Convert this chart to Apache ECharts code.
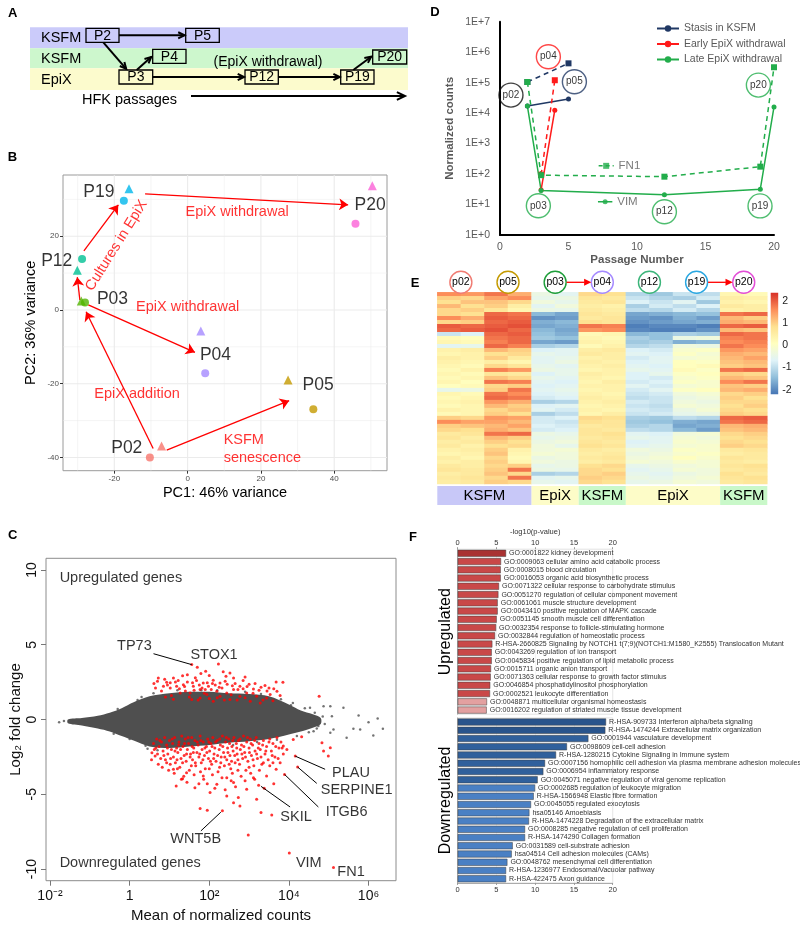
<!DOCTYPE html>
<html><head><meta charset="utf-8">
<script src="https://cdn.jsdelivr.net/npm/echarts@6.0.0/dist/echarts.min.js"></script>
<style>html,body{margin:0;padding:0;background:#fff;}#chart{width:800px;height:927px;}</style>
</head><body><div id="chart"></div>
<script>
// ======================= DATA =======================
// ---- Panel B : PCA ----
const pcaPassages = ['P02','P03','P04','P05','P12','P19','P20'];
const pcaCircleX = [-10.3,-28.0,4.8,34.3,-28.8,-17.4,45.8];
const pcaCircleY = [-40.0,2.0,-17.2,-26.9,13.8,29.6,23.4];
const pcaTriangleX = [-7.1,-29.0,3.6,27.4,-30.1,-16.0,50.4];
const pcaTriangleY = [-36.9,2.4,-5.7,-19.0,10.8,32.9,33.7];
const pcaLabelX = [-16.6,-20.5,7.6,35.6,-35.7,-24.2,49.8];
const pcaLabelY = [-37.6,2.9,-12.4,-20.4,13.3,32.0,28.3];
const pcaArrows = [[-9.4,-37.6,-27.7,-0.5],[-5.7,-38.0,27.7,-24.6],[-27.1,1.4,2.0,-11.5],[-29.4,2.7,-30.1,8.9],[-28.3,16.0,-18.9,28.5],[-11.6,31.5,43.8,28.5]];
const pcaNotes = ['EpiX withdrawal','Cultures in EpiX','EpiX withdrawal','EpiX addition','KSFM\nsenescence'];
const pcaNoteX = [13.5,-19.4,0.0,-13.8,9.7];
const pcaNoteY = [26.5,17.5,0.9,-22.9,-37.8];
const pcaXTicks = [-20,0,20,40];
const pcaYTicks = [-40,-20,0,20];
const pcaMinorX = [-30,-10,10,30,50];
const pcaMinorY = [-30,-10,10,30];

// ---- Panel D : normalized counts ----
const stasisVIM = [[2,1.7e4],[5,2.9e4]];
const stasisFN1 = [[2,1.05e5],[5,4.3e5]];
const earlyVIM = [[3,30],[4,1.25e4]];
const earlyFN1 = [[3,95],[4,1.2e5]];
const lateVIM = [[2,1.7e4],[3,29],[12,21],[19,32],[20,1.6e4]];
const lateFN1 = [[2,1.05e5],[3,92],[12,82],[19,175],[20,3.2e5]];
const dLegendNames = ['Stasis in KSFM','Early EpiX withdrawal','Late EpiX withdrawal'];
const dSampleNames = ['p02','p04','p05','p03','p12','p19','p20'];
const dSampleX = [0.8,3.53,5.43,2.8,12.0,18.98,18.86];
const dSampleY = [3.9e4,7.1e5,1.07e5,9.1,5.8,9.0,8.3e4];
const dKeyFN1 = [[7.2,186],[8.3,186]];
const dKeyVIM = [[7.15,12.3],[8.2,12.3]];

// ---- Panel E : heatmap (z-scores) ----
const heatCols = ['p02a','p02b','p05a','p05b','p03a','p03b','p04a','p04b','p12a','p12b','p19a','p19b','p20a','p20b'];
const heatSamples = ['p02','p05','p03','p04','p12','p19','p20'];
const heatGroups = [['KSFM',0,3],['EpiX',4,5],['KSFM',6,7],['EpiX',8,11],['KSFM',12,13]];
const heatRows = [
[1.6,1.5,1.8,1.3,-0.4,-0.6,0.9,0.8,-1.1,-1.3,-0.9,-1.0,0.3,0.2],
[1.0,0.9,1.4,1.6,-0.5,-0.4,0.7,0.6,-0.9,-1.1,-1.2,-0.8,0.5,0.4],
[0.8,1.1,1.1,0.9,-0.3,-0.5,0.6,0.7,-0.7,-0.9,-0.6,-1.3,0.4,0.3],
[1.2,0.8,1.0,0.5,-0.6,-0.3,0.5,0.4,-1.2,-0.8,-1.0,-0.7,0.6,0.5],
[0.9,1.0,0.7,0.3,-0.4,-0.5,0.6,0.5,-1.0,-1.1,-0.8,-1.1,0.4,0.5],
[0.9,0.8,1.9,1.8,-1.5,-1.7,0.7,0.6,-1.7,-1.6,-1.5,-1.4,1.8,1.9],
[1.6,1.3,2.0,1.9,-1.9,-1.8,0.6,0.7,-1.8,-1.9,-1.6,-1.8,1.2,1.0],
[0.9,1.0,1.9,2.0,-1.6,-1.5,0.8,0.7,-1.9,-1.8,-1.7,-1.6,1.3,1.2],
[2.0,1.9,2.0,2.1,-1.7,-1.6,1.8,1.7,-2.1,-2.0,-2.0,-2.1,1.9,2.0],
[1.9,2.0,2.1,1.9,-1.5,-1.7,1.5,1.6,-2.0,-2.1,-2.1,-1.9,1.2,1.1],
[-0.9,-0.7,1.9,2.0,-1.4,-1.6,0.2,0.3,-1.5,-1.4,-1.2,-1.3,1.9,1.8],
[0.2,0.1,1.8,1.9,-1.3,-1.4,0.3,0.2,-1.2,-1.4,-0.4,-0.3,1.7,1.8],
[0.3,0.2,1.7,1.9,-1.7,-1.8,0.4,0.3,-1.3,-1.2,-1.6,-1.5,1.6,1.7],
[-0.6,-0.5,1.9,1.7,-1.2,-1.1,0.2,0.4,-1.1,-1.0,-0.3,-0.4,1.8,1.6],
[0.4,0.5,1.2,1.0,-0.7,-0.6,0.5,0.6,-0.7,-0.8,-0.1,0.0,1.5,1.4],
[0.3,0.4,0.8,0.9,-0.5,-0.6,0.6,0.5,-0.6,-0.7,0.0,-0.2,1.3,1.2],
[0.5,0.4,1.0,0.6,-0.6,-0.5,0.4,0.5,-0.8,-0.6,-0.2,-0.1,1.2,1.4],
[0.4,0.3,0.5,0.3,-0.6,-0.4,0.5,0.4,-0.7,-0.6,0.1,0.0,1.1,1.2],
[0.3,0.2,0.9,0.7,-0.5,-0.6,0.4,0.5,-0.6,-0.7,0.1,0.2,1.0,1.1],
[0.2,0.4,1.7,1.5,-0.4,-0.5,0.3,0.4,-0.5,-0.6,0.2,0.0,1.8,1.9],
[0.3,0.2,0.7,0.6,-0.7,-0.5,0.5,0.4,-0.7,-0.5,0.0,0.1,1.0,0.9],
[0.2,0.3,1.1,0.9,-0.5,-0.6,0.4,0.3,-0.7,-0.8,-0.1,0.0,1.2,1.1],
[0.3,0.1,1.8,1.7,-0.6,-0.7,0.3,0.5,-0.8,-0.7,0.0,-0.1,1.6,1.8],
[0.1,0.2,0.9,1.0,-0.7,-0.6,0.4,0.4,-0.6,-0.8,-0.2,-0.1,1.1,1.0],
[-0.5,-0.4,1.0,1.8,-0.6,-0.5,0.3,0.4,-0.8,-0.6,0.0,0.1,1.2,1.3],
[0.3,0.2,1.8,1.6,-0.7,-0.6,0.4,0.3,-0.9,-0.8,-0.3,-0.2,0.9,1.0],
[0.2,0.3,1.9,1.8,-0.8,-0.7,0.5,0.4,-1.0,-0.9,-0.4,-0.3,1.0,0.8],
[0.3,0.4,1.5,1.3,-1.2,-1.1,0.4,0.5,-0.8,-0.9,-0.3,-0.4,0.9,0.9],
[0.2,0.3,1.2,1.0,-0.7,-0.6,0.3,0.4,-0.9,-1.0,-0.2,-0.3,0.8,1.0],
[0.4,0.3,0.9,1.1,-0.6,-0.8,0.4,0.3,-0.8,-0.9,-0.4,-0.2,0.9,0.8],
[0.2,0.3,1.0,0.8,-1.2,-1.0,0.3,0.5,-0.9,-0.8,-0.5,-0.4,1.0,0.9],
[1.0,0.9,1.5,1.4,-0.8,-0.7,0.9,0.8,-1.2,-1.3,-1.0,-1.1,1.9,2.0],
[1.6,1.4,1.4,1.2,-0.8,-0.9,0.8,0.7,-1.3,-1.4,-1.6,-1.7,1.8,1.9],
[1.0,1.1,1.2,1.4,-0.7,-0.8,0.6,0.7,-1.2,-1.1,-1.7,-1.6,1.2,1.3],
[0.9,0.8,1.3,1.1,-0.8,-0.7,0.7,0.6,-1.0,-1.1,-1.5,-1.8,1.1,1.2],
[0.6,0.7,1.8,1.9,-0.4,-0.5,0.7,0.8,-0.6,-0.7,-0.3,-0.2,0.9,1.0],
[0.7,0.5,1.2,1.0,-0.5,-0.4,0.6,0.7,-0.5,-0.6,-0.2,-0.3,0.8,0.9],
[0.5,0.6,1.0,0.8,-0.4,-0.3,0.7,0.6,-0.7,-0.6,-0.1,-0.2,0.9,0.8],
[0.6,0.4,0.8,0.9,-0.3,-0.5,0.8,0.7,-0.6,-0.5,-0.2,-0.1,1.0,0.9],
[0.4,0.5,1.0,0.4,-0.3,-0.2,0.6,0.5,-0.3,-0.4,0.0,-0.1,0.6,0.7],
[0.3,0.4,1.1,0.3,-0.2,-0.3,0.5,0.6,-0.4,-0.3,-0.1,0.0,0.5,0.6],
[0.5,0.3,0.9,0.2,-0.4,-0.3,0.6,0.7,-0.3,-0.2,0.1,-0.1,0.7,0.6],
[0.4,0.5,1.0,0.3,-0.3,-0.4,0.5,0.6,-0.2,-0.3,-0.1,-0.2,0.6,0.5],
[0.6,0.5,0.9,1.0,-0.5,-0.4,0.8,0.9,-0.5,-0.4,-0.3,-0.2,0.7,0.8],
[0.7,0.6,1.0,1.8,-0.4,-0.5,0.9,0.8,-0.6,-0.5,-0.2,-0.3,0.6,0.7],
[0.5,0.6,1.1,0.9,-1.2,-1.1,0.9,1.0,-0.5,-0.6,-0.4,-0.3,0.8,0.6],
[0.6,0.7,0.9,1.8,-0.6,-0.5,1.0,0.9,-0.4,-0.5,-0.3,-0.2,0.7,0.8],
[0.5,0.6,1.0,0.9,-0.5,-0.6,0.9,0.8,-0.5,-0.4,-0.2,-0.3,0.6,0.7]
];
const heatScaleTicks = [-2,-1,0,1,2];

// ---- Panel C : MA plot (x = log10 mean of normalized counts, y = log2 fold change) ----
const maEnvX = [-1.55,-1.2,-0.8,-0.5,-0.2,0.1,0.5,1.0,1.5,2.0,2.5,3.0,3.5,4.0,4.3,4.6,4.8];
const maEnvUpper = [0.0,0.1,0.25,0.45,0.75,1.15,1.55,1.75,1.85,1.85,1.75,1.7,1.55,1.0,0.6,0.35,0.1];
const maEnvLower = [-0.25,-0.4,-0.6,-0.8,-1.1,-1.4,-1.8,-1.9,-1.8,-1.7,-1.55,-1.45,-1.3,-1.0,-0.8,-0.55,-0.3];
const maGrayPoints = [[-1.77,-0.18],[-1.65,-0.1],[0.3,1.5],[0.4,-1.75],[0.2,1.3],[0.0,-1.3],[-0.3,0.7],[-0.4,-0.95],[0.6,1.75],[0.7,-2.05],[1.2,1.95],[1.8,1.95],[2.2,1.95],[2.9,1.85],[3.3,1.7],[3.8,1.35],[4.1,1.1],[4.2,-1.1],[4.4,0.75],[4.5,-0.85],[3.7,-1.35],[3.2,-1.5],[2.6,-1.7],[4.05,0.95],[4.65,0.45],[4.7,-0.6],[4.85,0.2],[4.9,-0.3],[0.45,-1.95],
[4.53,0.78],[4.87,0.89],[5.04,0.89],[5.37,0.78],[5.75,0.27],[6.0,-0.18],[6.23,0.07],[6.36,-0.62],[5.62,-0.62],[5.79,-0.67],[5.12,-0.67],[5.45,-1.22],[6.12,-1.07],[5.08,0.22],[4.74,-0.44],[4.62,-0.78],[5.04,-0.89]];
const maRedUp = [[1.56,3.67],[1.70,3.49],[2.23,3.71],[1.79,3.07],[1.91,3.22],[1.33,2.93],[1.10,2.78],[0.72,2.78],[0.61,2.40],[0.93,2.49],[2.52,3.11],[2.61,2.78],[3.68,2.51],[3.85,2.49],[4.76,1.56],[3.40,2.27],[3.11,2.04],[2.77,2.22],[2.10,2.62],[2.27,2.44],[1.85,2.44],[1.98,2.22],[1.60,2.22],[1.35,2.33],[1.18,2.22],[1.02,2.11],[0.85,2.22],[1.77,2.0],[2.19,1.89],[2.44,1.78],[2.61,2.0],[2.94,1.78],[3.19,1.56],[3.44,1.44],[2.77,1.56],[1.52,1.78],[1.27,1.78],[1.94,1.67],[2.27,1.56],[2.52,1.33],[3.03,1.22],[3.28,1.11],[3.53,1.67],[3.70,1.89],[1.77,1.44],[2.10,1.22],[1.56,1.33],
[0.65,2.1],[0.8,1.9],[0.95,2.3],[1.05,1.6],[1.15,2.5],[1.25,2.05],[1.4,1.9],[1.45,2.5],[1.5,1.5],[1.62,1.95],[1.68,2.6],[1.72,1.3],[1.82,2.1],[1.88,1.75],[1.95,2.45],[2.0,1.4],[2.05,2.0],[2.15,2.3],[2.2,1.45],[2.32,2.1],[2.38,1.3],[2.45,2.35],[2.55,1.65],[2.65,2.4],[2.7,1.3],[2.85,2.05],[2.9,1.45],[3.0,2.35],[3.1,1.75],[3.25,1.95],[3.35,1.3],[3.5,2.1],[3.6,1.25],[1.1,1.35],[0.9,1.5],[2.42,2.9],[2.0,2.95],[1.65,2.8],[2.85,2.6],
[0.70,2.55],[0.88,2.7],[1.02,2.45],[1.22,2.6],[1.38,2.2],[1.58,2.45],[1.75,2.3],[1.90,2.0],[2.08,2.4],[2.25,2.15],[2.40,2.55],[2.58,2.25],[2.72,2.0],[2.95,2.2],[3.15,2.4],[3.30,2.15],[3.45,1.9],[3.62,2.05],[3.78,1.6],[2.35,3.2],[1.45,3.0],[2.9,2.85]];
const maRedDown = [[1.17,-4.44],[1.33,-3.96],[1.64,-4.56],[1.77,-5.96],[1.95,-6.07],[2.33,-6.11],[2.73,-5.22],[2.77,-5.78],[2.94,-4.67],[2.98,-7.73],[3.19,-5.33],[3.30,-6.22],[3.57,-6.38],[3.24,-4.40],[3.68,-3.33],[3.89,-3.67],[4.16,-2.44],[4.22,-3.18],[4.01,-8.93],[5.12,-9.89],[4.83,-1.56],[5.04,-1.89],[4.99,-2.44],[4.87,-2.11],[4.32,-1.16],[4.11,-1.33],[3.95,-2.0],[3.86,-1.78],[3.78,-2.89],[3.60,-2.89],[3.44,-3.78],[2.61,-4.22],[2.44,-3.89],[2.19,-4.33],[2.02,-4.89],[1.85,-3.78],[1.43,-3.56],[1.10,-3.33],[0.93,-2.89],[0.64,-2.44],[0.56,-2.22],[2.44,-5.11],[2.61,-5.56],[3.11,-3.89],[3.36,-2.89],
[0.60,-1.6],[0.62,-2.0],[0.68,-1.3],[0.70,-2.3],[0.74,-1.8],[0.78,-2.6],[0.80,-1.5],[0.84,-2.1],[0.88,-1.2],[0.90,-2.7],[0.93,-1.7],[0.96,-2.3],[1.00,-1.4],[1.02,-3.0],[1.05,-2.0],[1.08,-1.6],[1.10,-2.5],[1.13,-1.2],[1.15,-2.9],[1.18,-1.9],[1.21,-2.2],[1.24,-1.5],[1.26,-3.2],[1.29,-2.6],[1.31,-1.1],[1.34,-1.8],[1.37,-2.4],[1.40,-1.3],[1.42,-2.8],[1.45,-2.0],[1.48,-1.6],[1.50,-3.4],[1.53,-2.3],[1.56,-1.2],[1.58,-2.7],[1.61,-1.9],[1.64,-1.4],[1.66,-3.1],[1.69,-2.2],[1.72,-1.7],[1.74,-2.5],[1.77,-1.1],[1.80,-2.9],[1.82,-2.0],[1.85,-1.5],[1.88,-2.4],[1.90,-3.3],[1.93,-1.8],[1.96,-1.3],[1.98,-2.6],[2.01,-2.1],[2.04,-1.6],[2.06,-3.0],[2.09,-1.2],[2.12,-2.3],[2.14,-1.9],[2.17,-2.8],[2.20,-1.4],[2.22,-3.5],[2.25,-2.0],[2.28,-1.7],[2.30,-2.5],[2.33,-1.1],[2.36,-2.2],[2.38,-3.1],[2.41,-1.5],[2.44,-2.7],[2.46,-1.9],[2.49,-1.3],[2.52,-2.4],[2.54,-3.3],[2.57,-1.8],[2.60,-2.1],[2.62,-1.2],[2.65,-2.9],[2.68,-1.6],[2.70,-2.3],[2.73,-1.4],[2.76,-3.0],[2.78,-2.0],[2.81,-1.7],[2.84,-2.6],[2.86,-1.1],[2.89,-2.2],[2.92,-3.4],[2.94,-1.5],[2.97,-2.8],[3.00,-1.9],[3.03,-1.3],[3.06,-2.4],[3.09,-1.7],[3.12,-3.1],[3.15,-2.1],[3.18,-1.2],[3.21,-2.6],[3.25,-1.6],[3.28,-2.0],[3.32,-3.0],[3.36,-1.4],[3.40,-2.3],[3.44,-1.8],[3.48,-2.7],[3.52,-1.3],[3.56,-2.1],[3.60,-1.6],[3.65,-2.5],[3.70,-1.2],[3.75,-1.9],[3.80,-1.5],[3.86,-2.3],[1.12,-3.6],[1.36,-3.8],[1.62,-3.7],[1.86,-4.0],[2.08,-3.7],[2.32,-3.9],[2.58,-3.6],[2.80,-3.8],[3.04,-3.6],[0.55,-2.7],[0.72,-3.0],[0.98,-3.4],[1.44,-4.2],[1.74,-4.3],[2.14,-4.6],[2.66,-4.5],[2.90,-4.1],[3.14,-4.0],
[0.66,-1.9],[0.76,-1.4],[0.86,-2.4],[0.95,-1.9],[1.03,-2.6],[1.07,-1.3],[1.14,-2.1],[1.19,-2.7],[1.23,-1.7],[1.28,-2.0],[1.33,-2.9],[1.38,-1.6],[1.43,-2.3],[1.47,-1.2],[1.52,-2.5],[1.57,-1.8],[1.60,-2.2],[1.65,-2.9],[1.70,-1.5],[1.76,-2.3],[1.79,-1.4],[1.84,-2.7],[1.89,-1.9],[1.94,-2.2],[1.99,-1.5],[2.03,-2.8],[2.07,-1.8],[2.11,-2.6],[2.16,-1.5],[2.21,-2.4],[2.26,-1.3],[2.29,-2.9],[2.34,-1.8],[2.39,-2.5],[2.43,-1.2],[2.47,-2.2],[2.51,-1.6],[2.56,-2.8],[2.59,-1.4],[2.64,-2.4],[2.69,-1.9],[2.72,-2.7],[2.77,-1.3],[2.82,-2.3],[2.87,-1.8],[2.91,-2.5],[2.96,-1.2],[3.01,-2.2],[3.05,-1.6],[3.10,-2.7],[3.14,-1.4],[3.19,-2.3],[3.23,-1.9],[3.30,-2.5],[3.34,-1.7],[3.42,-2.1],[3.50,-1.5],[3.58,-2.4],[3.67,-1.8],[3.73,-2.6],[3.83,-1.9],[1.20,-3.3],[1.55,-3.1],[1.78,-3.5],[2.00,-3.3],[2.26,-3.2],[2.50,-3.0],[2.72,-3.4],[3.00,-3.2],[3.26,-3.4],[3.52,-3.1],[0.82,-3.2],[1.30,-4.0],[1.95,-4.3],[2.40,-4.7],[2.55,-4.1],[3.38,-4.6],[3.62,-4.3]];
const maGenes = ['TP73','STOX1','PLAU','SERPINE1','ITGB6','SKIL','WNT5B','VIM','FN1'];
const maGeneX = [0.12,2.12,5.56,5.70,5.45,4.18,1.66,4.50,5.56];
const maGeneY = [4.93,4.33,-3.6,-4.73,-6.2,-6.53,-8.0,-9.6,-10.18];
const maLeaders = [[0.60,4.4,1.56,3.67],[4.16,-2.45,4.91,-3.33],[4.22,-3.18,4.70,-4.27],[3.89,-3.67,4.74,-5.85],[3.30,-4.47,4.03,-5.85],[1.79,-7.45,2.29,-6.2]];
const maRegionText = ['Upregulated genes','Downregulated genes'];
const maRegionX = [-1.77,-1.77];
const maRegionY = [9.47,-9.6];
const maXTicks = [-2,0,2,4,6];
const maXTickText = ['10\u207B\u00B2','1','10\u00B2','10\u2074','10\u2076'];
const maYTicks = [-10,-5,0,5,10];

// ---- Panel F : enrichment ----
const upTerms = ['GO:0001822 kidney development','GO:0009063 cellular amino acid catabolic process','GO:0008015 blood circulation','GO:0016053 organic acid biosynthetic process','GO:0071322 cellular response to carbohydrate stimulus','GO:0051270 regulation of cellular component movement','GO:0061061 muscle structure development','GO:0043410 positive regulation of MAPK cascade','GO:0051145 smooth muscle cell differentiation','GO:0032354 response to follicle-stimulating hormone','GO:0032844 regulation of homeostatic process','R-HSA-2660825 Signaling by NOTCH1 t(7;9)(NOTCH1:M1580_K2555) Translocation Mutant','GO:0043269 regulation of ion transport','GO:0045834 positive regulation of lipid metabolic process','GO:0015711 organic anion transport','GO:0071363 cellular response to growth factor stimulus','GO:0046854 phosphatidylinositol phosphorylation','GO:0002521 leukocyte differentiation','GO:0048871 multicellular organismal homeostasis','GO:0016202 regulation of striated muscle tissue development'];
const upValues = [6.24,5.59,5.55,5.55,5.33,5.25,5.16,5.16,5.03,4.95,4.82,4.47,4.39,4.39,4.30,4.26,4.20,4.17,3.78,3.74];
const downTerms = ['R-HSA-909733 Interferon alpha/beta signaling','R-HSA-1474244 Extracellular matrix organization','GO:0001944 vasculature development','GO:0098609 cell-cell adhesion','R-HSA-1280215 Cytokine Signaling in Immune system','GO:0007156 homophilic cell adhesion via plasma membrane adhesion molecules','GO:0006954 inflammatory response','GO:0045071 negative regulation of viral genome replication','GO:0002685 regulation of leukocyte migration','R-HSA-1566948 Elastic fibre formation','GO:0045055 regulated exocytosis','hsa05146 Amoebiasis','R-HSA-1474228 Degradation of the extracellular matrix','GO:0008285 negative regulation of cell proliferation','R-HSA-1474290 Collagen formation','GO:0031589 cell-substrate adhesion','hsa04514 Cell adhesion molecules (CAMs)','GO:0048762 mesenchymal cell differentiation','R-HSA-1236977 Endosomal/Vacuolar pathway','R-HSA-422475 Axon guidance'];
const downValues = [19.14,19.05,16.86,14.10,12.69,11.27,11.05,10.32,9.98,9.81,9.46,9.25,9.20,8.69,8.69,7.10,6.97,6.41,6.24,6.24];

// ======================= STYLES =======================
const FONT = '"Liberation Sans", Arial, Helvetica, sans-serif';
const passageColors = {P02:'#F8766D',P03:'#53B400',P04:'#A58AFF',P05:'#C49A00',P12:'#00C094',P19:'#00B6EB',P20:'#FB61D7'};
const heatCircleColors = {p02:'#f07b72',p05:'#c49a00',p03:'#1e9e3a',p04:'#a58aff',p12:'#3cb57a',p19:'#2aa7e1',p20:'#e34fd7'};
const dColors = {navy:'#203864', red:'#ff1a1a', green:'#22ad4b'};
const dSampleColors = ['#111111',dColors.red,dColors.navy,dColors.green,dColors.green,dColors.green,dColors.green];
const heatPalette = ['#4575B4','#91BFDB','#E0F3F8','#FFFFBF','#FEE090','#FC8D59','#D73027'];
const groupColors = {KSFM1:'#c8c8f8', EpiX:'#fdfcc8', KSFM:'#c9f8c9'};
const upColors = upValues.map((v,i)=> i===0 ? '#a93232' : (i>=18 ? '#e3a0a0' : '#c94848'));
const downColors = downValues.map((v,i)=> i<2 ? '#29548c' : (i<8 ? '#30609c' : '#4a80c4'));

// ======================= CHART =======================
const chart = echarts.init(document.getElementById('chart'), null, {width:800, height:927});

function textSeries(xi, yi, names, xs, ys, labelOpt){
  return {type:'scatter', xAxisIndex:xi, yAxisIndex:yi, symbol:'circle', symbolSize:1, clip:false, silent:true, z:10,
    itemStyle:{color:'rgba(0,0,0,0)'},
    label:Object.assign({show:true, position:'inside', formatter:'{b}', fontFamily:FONT, color:'#000'}, labelOpt),
    data:names.map((n,i)=>({name:n, value:[xs[i], ys[i]]}))};
}

const series = [];
// ---------- B ----------
const pcaGridDefs = [];
pcaXTicks.forEach(v=>pcaGridDefs.push([0,v,1])); pcaMinorX.forEach(v=>pcaGridDefs.push([0,v,0]));
pcaYTicks.forEach(v=>pcaGridDefs.push([1,v,1])); pcaMinorY.forEach(v=>pcaGridDefs.push([1,v,0]));
series.push({type:'custom', xAxisIndex:0, yAxisIndex:0, silent:true, z:0, data:pcaGridDefs.map(d=>({value:[0,0]})),
  renderItem:(params, api)=>{
    const d = pcaGridDefs[params.dataIndex]; const cs = params.coordSys;
    let x1,y1,x2,y2;
    if(d[0]===0){ const p=api.coord([d[1],0]); x1=x2=p[0]; y1=cs.y; y2=cs.y+cs.height; }
    else { const p=api.coord([0,d[1]]); y1=y2=p[1]; x1=cs.x; x2=cs.x+cs.width; }
    return {type:'line', shape:{x1,y1,x2,y2}, style:{stroke:'#ebebeb', lineWidth:d[2]?1.1:0.5}};
  }});
series.push({type:'lines', coordinateSystem:'cartesian2d', xAxisIndex:0, yAxisIndex:0, silent:true, z:4,
  symbol:['none','arrow'], symbolSize:9, lineStyle:{color:'#ff0000', width:1.3, opacity:1},
  data:pcaArrows.map(a=>({coords:[[a[0],a[1]],[a[2],a[3]]]}))});
series.push({type:'scatter', xAxisIndex:0, yAxisIndex:0, symbol:'circle', symbolSize:8, z:5, silent:true,
  data:pcaPassages.map((p,i)=>({name:p, value:[pcaCircleX[i], pcaCircleY[i]], itemStyle:{color:passageColors[p]}}))});
series.push({type:'scatter', xAxisIndex:0, yAxisIndex:0, symbol:'triangle', symbolSize:9, z:5, silent:true,
  data:pcaPassages.map((p,i)=>({name:p, value:[pcaTriangleX[i], pcaTriangleY[i]], itemStyle:{color:passageColors[p]}}))});
series.push(textSeries(0,0,pcaPassages,pcaLabelX,pcaLabelY,{fontSize:17.5, color:'#000'}));
const noteSeries = textSeries(0,0,pcaNotes,pcaNoteX,pcaNoteY,{fontSize:14.5, color:'#ff0000'});
noteSeries.data[1].label = {rotate:58};
noteSeries.data[4].label = {position:'right', distance:0, align:'left', lineHeight:18};
series.push(noteSeries);

// ---------- D ----------
function dLine(name, data, color, dashed){
  return {type:'line', name, xAxisIndex:1, yAxisIndex:1, data, symbol:dashed?'rect':'circle', symbolSize:dashed?6:5,
    showSymbol:true, silent:true, z:3, lineStyle:{color, width:1.5, type:dashed?[5,4]:'solid'}, itemStyle:{color}};
}
series.push(dLine(dLegendNames[0], stasisVIM, dColors.navy, false));
series.push(dLine(dLegendNames[1], earlyVIM, dColors.red, false));
series.push(dLine(dLegendNames[2], lateVIM, dColors.green, false));
series.push(dLine('FN1 stasis', stasisFN1, dColors.navy, true));
series.push(dLine('FN1 early', earlyFN1, dColors.red, true));
series.push(dLine('FN1 late', lateFN1, dColors.green, true));
series.push({type:'line', xAxisIndex:1, yAxisIndex:1, data:dKeyFN1, symbol:'none', silent:true, lineStyle:{color:dColors.green, width:1.5, type:[4,3]}});
series.push({type:'line', xAxisIndex:1, yAxisIndex:1, data:dKeyVIM, symbol:'none', silent:true, lineStyle:{color:dColors.green, width:1.5}});
series.push({type:'scatter', xAxisIndex:1, yAxisIndex:1, silent:true, z:4,
  data:[{value:[(dKeyFN1[0][0]+dKeyFN1[1][0])/2, dKeyFN1[0][1]], symbol:'rect', symbolSize:6},
        {value:[(dKeyVIM[0][0]+dKeyVIM[1][0])/2, dKeyVIM[0][1]], symbol:'circle', symbolSize:5}],
  itemStyle:{color:dColors.green}});
series.push(textSeries(1,1,['FN1','VIM'],[8.62,8.52],[dKeyFN1[0][1], dKeyVIM[0][1]],{position:'right', distance:0, fontSize:11.5, color:'#595959'}));
series.push({type:'scatter', xAxisIndex:1, yAxisIndex:1, symbol:'circle', symbolSize:24, clip:false, silent:true, z:6,
  data:dSampleNames.map((n,i)=>({name:n, value:[dSampleX[i], dSampleY[i]], itemStyle:{color:'rgba(255,255,255,0)', borderColor:dSampleColors[i], borderWidth:1.4}})),
  label:{show:true, position:'inside', formatter:'{b}', fontSize:10, color:'#000', fontFamily:FONT}});

// ---------- E ----------
const heatData = [];
heatRows.forEach((row,r)=>row.forEach((v,c)=>heatData.push([c,r,v])));
const heatIndex = series.length;
series.push({type:'heatmap', xAxisIndex:2, yAxisIndex:2, data:heatData, silent:true, itemStyle:{borderWidth:0}, progressive:0});
series.push({type:'custom', xAxisIndex:3, yAxisIndex:3, silent:true, data:[[0.5,0]],
  renderItem:(params, api)=>{ const cs=params.coordSys;
    return {type:'rect', shape:{x:cs.x,y:cs.y,width:cs.width,height:cs.height},
      style:{fill:new echarts.graphic.LinearGradient(0,1,0,0, heatPalette.map((c,i)=>({offset:i/(heatPalette.length-1), color:c})))}};
  }});

// ---------- C ----------
series.push({type:'custom', xAxisIndex:4, yAxisIndex:4, silent:true, z:1, data:[[0,0]],
  renderItem:(params, api)=>{
    const pts=[];
    for(let i=0;i<maEnvX.length;i++) pts.push(api.coord([maEnvX[i], maEnvUpper[i]]));
    for(let i=maEnvX.length-1;i>=0;i--) pts.push(api.coord([maEnvX[i], maEnvLower[i]]));
    return {type:'polygon', shape:{points:pts, smooth:0.3}, style:{fill:'#4f4f4f'}};
  }});
series.push({type:'scatter', xAxisIndex:4, yAxisIndex:4, silent:true, z:2, symbolSize:2.5, data:maGrayPoints, itemStyle:{color:'#505050'}});
series.push({type:'scatter', xAxisIndex:4, yAxisIndex:4, silent:true, z:3, symbolSize:3, data:maRedUp.concat(maRedDown), itemStyle:{color:'#ff0000'}});
series.push({type:'lines', coordinateSystem:'cartesian2d', xAxisIndex:4, yAxisIndex:4, silent:true, z:4, symbol:'none',
  lineStyle:{color:'#000', width:1, opacity:1}, data:maLeaders.map(a=>({coords:[[a[0],a[1]],[a[2],a[3]]]}))});
series.push(textSeries(4,4,maGenes,maGeneX,maGeneY,{fontSize:14.5, color:'#000'}));
series.push(textSeries(4,4,maRegionText,maRegionX,maRegionY,{position:'right', distance:0, fontSize:14.5, color:'#000'}));

// ---------- F ----------
function fBars(xi, yi, terms, values, colors){
  return {type:'bar', xAxisIndex:xi, yAxisIndex:yi, silent:true, barWidth:7,
    data:values.map((v,i)=>({value:v, itemStyle:{color:colors[i]}})),
    itemStyle:{borderColor:'#3c3c3c', borderWidth:0.5},
    label:{show:true, position:'right', distance:3, formatter:p=>terms[p.dataIndex], fontSize:7, color:'#333', fontFamily:FONT}};
}
series.push(fBars(5,5,upTerms,upValues,upColors));
series.push(fBars(6,6,downTerms,downValues,downColors));

const option = {
  animation:false,
  textStyle:{fontFamily:FONT},
  grid:[
    {left:63, top:175, width:324, height:295.7, show:true, borderColor:'#9a9a9a', borderWidth:1, outerBoundsMode:'none'},
    {left:500, top:21.7, width:274, height:213.3, outerBoundsMode:'none'},
    {left:437.3, top:292.3, width:330, height:191.7, outerBoundsMode:'none'},
    {left:770.7, top:292.7, width:7.5, height:101.6, outerBoundsMode:'none'},
    {left:46, top:558.3, width:350, height:322.4, show:true, borderColor:'#8c8c8c', borderWidth:1, outerBoundsMode:'none'},
    {left:457.7, top:549.2, width:155, height:165, show:true, borderColor:'#d0d0d0', borderWidth:0.6, outerBoundsMode:'none'},
    {left:457.7, top:717.9, width:155, height:165, show:true, borderColor:'#d0d0d0', borderWidth:0.6, outerBoundsMode:'none'}
  ],
  legend:{data:dLegendNames, orient:'vertical', left:651, top:18, itemWidth:22, itemHeight:8, itemGap:4.5,
    textStyle:{fontSize:10.5, color:'#595959', fontFamily:FONT}, selectedMode:false},
  xAxis:[
    {gridIndex:0, type:'value', min:-34, max:54.4, axisLine:{show:false, onZero:false}, splitLine:{show:false},
      axisTick:{show:true, customValues:pcaXTicks, length:3, lineStyle:{color:'#333'}},
      axisLabel:{customValues:pcaXTicks, fontSize:8, color:'#4d4d4d', margin:4},
      name:'PC1: 46% variance', nameLocation:'middle', nameGap:15, nameTextStyle:{fontSize:14.5, color:'#000'}},
    {gridIndex:1, type:'value', min:0, max:20, interval:5, axisLine:{show:true, onZero:false, lineStyle:{color:'#000', width:2}},
      axisTick:{show:false}, splitLine:{show:false}, axisLabel:{fontSize:10.5, color:'#595959', margin:7},
      name:'Passage Number', nameLocation:'middle', nameGap:17, nameTextStyle:{fontSize:11.5, fontWeight:'bold', color:'#595959'}},
    {gridIndex:2, type:'category', data:heatCols, show:false},
    {gridIndex:3, type:'value', min:0, max:1, show:false, axisLine:{onZero:false}},
    {gridIndex:4, type:'value', min:-2.1, max:6.69, axisLine:{show:false, onZero:false}, splitLine:{show:false},
      axisTick:{show:true, customValues:maXTicks, length:5, lineStyle:{color:'#777'}},
      axisLabel:{customValues:maXTicks, formatter:v=>maXTickText[maXTicks.indexOf(Math.round(v))], fontSize:14, color:'#111', margin:8},
      name:'Mean of normalized counts', nameLocation:'middle', nameGap:28, nameTextStyle:{fontSize:15, color:'#111'}},
    {gridIndex:5, type:'value', position:'top', min:0, max:20, interval:5, axisLine:{show:false, onZero:false},
      axisTick:{show:true, length:2, lineStyle:{color:'#999'}}, axisLabel:{fontSize:7.5, color:'#333', margin:2},
      splitLine:{show:true, lineStyle:{color:'#ececec', width:0.6}},
      name:'-log10(p-value)', nameLocation:'middle', nameGap:13, nameTextStyle:{fontSize:7.5, color:'#333'}},
    {gridIndex:6, type:'value', position:'bottom', min:0, max:20, interval:5, axisLine:{show:true, onZero:false, lineStyle:{color:'#999', width:0.8}},
      axisTick:{show:true, length:2, lineStyle:{color:'#999'}}, axisLabel:{fontSize:7.5, color:'#333', margin:3},
      splitLine:{show:true, lineStyle:{color:'#ececec', width:0.6}}}
  ],
  yAxis:[
    {gridIndex:0, type:'value', min:-43.6, max:36.6, axisLine:{show:false, onZero:false}, splitLine:{show:false},
      axisTick:{show:true, customValues:pcaYTicks, length:3, lineStyle:{color:'#333'}},
      axisLabel:{customValues:pcaYTicks, fontSize:8, color:'#4d4d4d', margin:4},
      name:'PC2: 36% variance', nameLocation:'middle', nameRotate:90, nameGap:25, nameTextStyle:{fontSize:14.5, color:'#000'}},
    {gridIndex:1, type:'log', logBase:10, min:1, max:1e7, axisLine:{show:true, onZero:false, lineStyle:{color:'#000', width:2}},
      axisTick:{show:false}, splitLine:{show:false},
      axisLabel:{formatter:v=>'1E+'+Math.round(Math.log10(v)), fontSize:10.5, color:'#595959', margin:10},
      name:'Normalized counts', nameLocation:'middle', nameRotate:90, nameGap:44, nameTextStyle:{fontSize:11.5, fontWeight:'bold', color:'#595959'}},
    {gridIndex:2, type:'category', data:heatRows.map((r,i)=>'g'+i), inverse:true, show:false},
    {gridIndex:3, type:'value', min:-2.2, max:2.36, position:'right', axisLine:{show:false, onZero:false}, axisTick:{show:false}, splitLine:{show:false},
      axisLabel:{customValues:heatScaleTicks, fontSize:10.5, color:'#222', margin:4}},
    {gridIndex:4, type:'value', min:-10.78, max:10.78, axisLine:{show:false, onZero:false}, splitLine:{show:false},
      axisTick:{show:true, customValues:maYTicks, length:5, lineStyle:{color:'#777'}},
      axisLabel:{customValues:maYTicks, rotate:90, fontSize:14, color:'#111', margin:7},
      name:'Log\u2082 fold change', nameLocation:'middle', nameRotate:90, nameGap:23, nameTextStyle:{fontSize:15, color:'#111'}},
    {gridIndex:5, type:'category', data:upTerms, inverse:true, axisLabel:{show:false}, axisTick:{show:false},
      axisLine:{show:true, onZero:false, lineStyle:{color:'#999', width:0.8}},
      name:'Upregulated', nameLocation:'middle', nameRotate:90, nameGap:4, nameTextStyle:{fontSize:16, color:'#000'}},
    {gridIndex:6, type:'category', data:downTerms, inverse:true, axisLabel:{show:false}, axisTick:{show:false},
      axisLine:{show:true, onZero:false, lineStyle:{color:'#999', width:0.8}},
      name:'Downregulated', nameLocation:'middle', nameRotate:90, nameGap:4, nameTextStyle:{fontSize:16, color:'#000'}}
  ],
  visualMap:[{type:'continuous', seriesIndex:heatIndex, dimension:2, min:-2.2, max:2.36, inRange:{color:heatPalette}, show:false}],
  series
};
chart.setOption(option);

// ======================= GRAPHICS (schematic, letters, heatmap annotations) =======================
const G = [];
function txt(t, x, y, size, opt){
  G.push({type:'text', x, y, silent:true, z:100, style:Object.assign({text:t, font:size+'px '+FONT, fill:'#000', textAlign:'center', textVerticalAlign:'middle'}, opt||{})});
}
function arrow(x1,y1,x2,y2,color,w,head,filled){
  const a=Math.atan2(y2-y1,x2-x1);
  const h1=[x2-head*Math.cos(a-0.45), y2-head*Math.sin(a-0.45)];
  const h2=[x2-head*Math.cos(a+0.45), y2-head*Math.sin(a+0.45)];
  if(filled){
    const bx=x2-head*0.85*Math.cos(a), by=y2-head*0.85*Math.sin(a);
    G.push({type:'line', silent:true, z:100, shape:{x1,y1,x2:bx,y2:by}, style:{stroke:color, lineWidth:w}});
    G.push({type:'polygon', silent:true, z:100, shape:{points:[[x2,y2],h1,h2]}, style:{fill:color}});
  } else {
    G.push({type:'line', silent:true, z:100, shape:{x1,y1,x2,y2}, style:{stroke:color, lineWidth:w}});
    G.push({type:'polyline', silent:true, z:100, shape:{points:[h1,[x2,y2],h2]}, style:{stroke:color, lineWidth:w, fill:null}});
  }
}
// panel letters
[['A',12.8,13.8],['B',12.5,157],['C',12.8,535],['D',435,12],['E',415,283],['F',413,537]].forEach(l=>txt(l[0],l[1],l[2],13,{font:'bold 13px '+FONT}));
// Panel A schematic
G.push({type:'rect', silent:true, shape:{x:30,y:27.3,width:378,height:21}, style:{fill:'#cbcbfa'}});
G.push({type:'rect', silent:true, shape:{x:30,y:48.3,width:378,height:20}, style:{fill:'#cdf7cd'}});
G.push({type:'rect', silent:true, shape:{x:30,y:68.3,width:378,height:21.7}, style:{fill:'#fcfbcd'}});
txt('KSFM',41,38.3,14.5,{textAlign:'left'});
txt('KSFM',41,58.5,14.5,{textAlign:'left'});
txt('EpiX',41,79.5,14.5,{textAlign:'left'});
[['P2',86,28.3,33,14],['P5',185.7,28.3,33.6,14],['P4',152.7,49.3,33.3,14],['P20',372.7,50,34,14],['P3',119,70,33.7,14],['P12',245,70,33.3,14],['P19',340.7,70,33.3,14]].forEach(b=>{
  G.push({type:'rect', silent:true, z:101, shape:{x:b[1],y:b[2],width:b[3],height:b[4]}, style:{fill:'rgba(0,0,0,0)', stroke:'#000', lineWidth:1.3}});
  txt(b[0], b[1]+b[3]/2, b[2]+b[4]/2+0.5, 14);
});
arrow(119,35.3,184.5,35.3,'#000',2,7,false);
arrow(103.3,42.3,126.2,68.8,'#000',2,7,false);
arrow(136.7,70,151.2,57,'#000',2,7,false);
arrow(152.7,77,244,77,'#000',2,7,false);
arrow(278.3,77,339.7,77,'#000',2,7,false);
arrow(353.3,70,371.2,56.7,'#000',2,7,false);
arrow(191,96,405,96,'#000',2,9,false);
txt('(EpiX withdrawal)',268,62.3,14);
txt('HFK passages',82,100,14.5,{textAlign:'left'});

// Panel E : sample circles and group bars
const c0 = chart.convertToPixel({gridIndex:2}, [heatCols[0], 'g0']);
const c1 = chart.convertToPixel({gridIndex:2}, [heatCols[1], 'g1']);
const cLast = chart.convertToPixel({gridIndex:2}, [heatCols[0], 'g'+(heatRows.length-1)]);
const colW = c1[0]-c0[0], rowH = c1[1]-c0[1];
const heatLeft = c0[0]-colW/2, heatBottom = cLast[1]+rowH/2;
const circleY = 282.3;
heatSamples.forEach((s,k)=>{
  const cx = heatLeft + (2*k+1)*colW;
  G.push({type:'circle', silent:true, z:100, shape:{cx, cy:circleY, r:11}, style:{fill:'#fff', stroke:heatCircleColors[s], lineWidth:1.4}});
  txt(s, cx, circleY, 10.5);
});
arrow(heatLeft+5*colW+11.5, circleY, heatLeft+7*colW-11, circleY, '#ff0000', 1.3, 8, true);
arrow(heatLeft+11*colW+11.5, circleY, heatLeft+13*colW-11, circleY, '#ff0000', 1.3, 8, true);
heatGroups.forEach((gp,k)=>{
  const x = heatLeft + gp[1]*colW, w = (gp[2]-gp[1]+1)*colW;
  const fill = gp[0]==='EpiX' ? groupColors.EpiX : (k===0 ? groupColors.KSFM1 : groupColors.KSFM);
  G.push({type:'rect', silent:true, shape:{x, y:heatBottom+2, width:w, height:19}, style:{fill}});
  txt(gp[0], x+w/2, heatBottom+11.5, 15);
});
chart.setOption({graphic:{elements:G}});
</script></body></html>
